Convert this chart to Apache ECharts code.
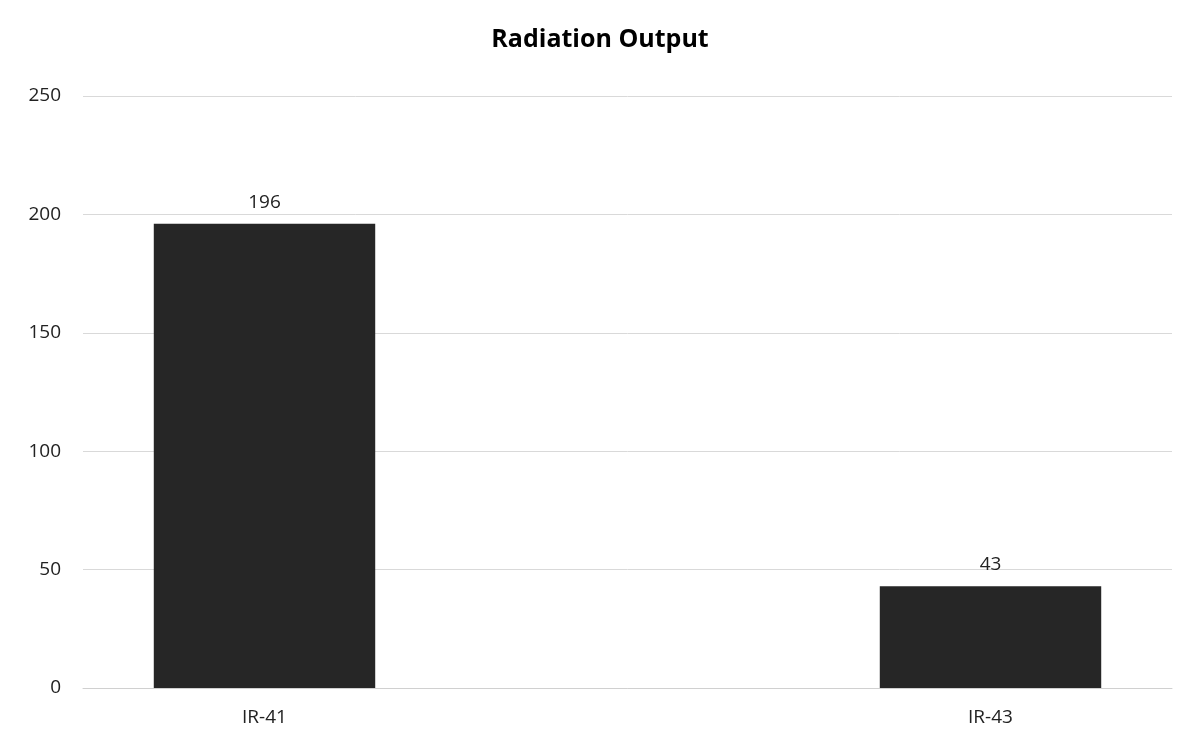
<!DOCTYPE html>
<html><head><meta charset="utf-8">
<script src="https://cdn.jsdelivr.net/npm/echarts@6/dist/echarts.min.js"></script>
<style>html,body{margin:0;padding:0;background:#fff}#c{width:1200px;height:738px}</style>
</head><body><div id="c"></div>
<script>
const categories = ["IR-41", "", "IR-43"];
const values = [196, null, 43];
const chart = echarts.init(document.getElementById('c'));
chart.setOption({
  animation: false,
  textStyle: {fontFamily: "Open Sans"},
  title: {text: "Radiation Output", left: "center", top: 22,
    textStyle: {fontSize: 25, fontWeight: "bold", color: "#000", fontFamily: "Open Sans"}},
  grid: {left: 83, right: 28, top: 96, bottom: 50},
  xAxis: {type: "category", data: categories,
    axisLine: {lineStyle: {color: "#d0d0d0"}}, axisTick: {show: false},
    axisLabel: {fontSize: 19, color: "#222", margin: 20}},
  yAxis: {type: "value", min: 0, max: 250, interval: 50,
    axisLine: {show: false}, axisTick: {show: false},
    splitLine: {lineStyle: {color: "#d9d9d9"}},
    axisLabel: {fontSize: 19, color: "#222", margin: 22}},
  series: [{type: "bar", data: values, barWidth: "61%",
    itemStyle: {color: "#262626"},
    label: {show: true, position: "top", distance: 12, fontSize: 19, color: "#222"}}]
});
</script></body></html>
